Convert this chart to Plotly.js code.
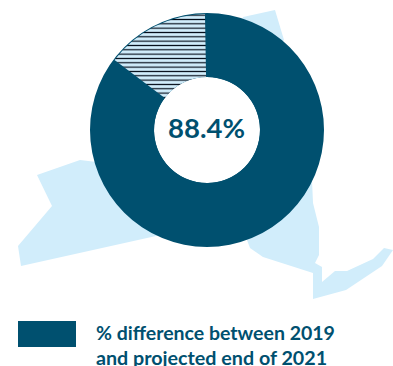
<!DOCTYPE html>
<html>
<head>
<meta charset="utf-8">
<script src="https://cdn.plot.ly/plotly-3.0.1.min.js"></script>
<style>html,body{margin:0;padding:0;background:#fff}#c{width:393px;height:366px}</style>
</head>
<body>
<div id="c"></div>
<script>
var sliceLabels = ['% difference between 2019 and projected end of 2021', 'Remainder'];
var sliceValues = [85.6, 14.4];
var centerLabel = '88.4%';
var legendLines = ['% difference between 2019', 'and projected end of 2021'];
var stateX = [37,80,105,130,165,21,18,52,37,null,
              243,275,284,265,240,243,null,
              312,313,319,319,315,322,322,335,347,373,384,393,382,346,313,313,263,250,247,235,290,312];
var stateY = [175,160,163,190,234,266,246,206,175,null,
              17,10,40,60,30,17,null,
              180,203,227,255,263,267,282,271,271,259,248,250,266,290,299,273,257,248,240,230,170,180];

var dark = '#00506F', pale = '#D1EDFB';
var font = 'Lato, "Open Sans", sans-serif';
var cx = 207, cyTop = 130, R = 117;
function dom(r){ return {x:[(cx-r)/393,(cx+r)/393], y:[(366-cyTop-r)/366,(366-cyTop+r)/366]}; }

var traces = [
  {type:'scatter', mode:'lines', x:stateX, y:stateY, fill:'toself', fillcolor:pale,
   line:{width:0,color:pale}, hoverinfo:'skip', showlegend:false},
  {type:'pie', labels:['Total'], values:[100], hole:53/R, textinfo:'none', showlegend:false,
   domain:dom(R), marker:{colors:[dark], line:{width:0}}},
  {type:'pie', labels:sliceLabels, values:sliceValues, sort:false, direction:'clockwise', rotation:-1,
   hole:53/(R-1), textinfo:'none', showlegend:false, domain:dom(R-1),
   marker:{colors:[dark,pale], line:{width:0},
     pattern:{shape:['','-'], bgcolor:[dark,pale], fgcolor:[dark,'#000814'], size:4.33, solidity:0.27}}}
];
var layout = {
  width:393, height:366, margin:{l:0,r:0,t:0,b:0},
  paper_bgcolor:'#fff', plot_bgcolor:'rgba(0,0,0,0)',
  xaxis:{range:[0,393], visible:false, fixedrange:true},
  yaxis:{range:[366,0], visible:false, fixedrange:true},
  shapes:[{type:'rect', xref:'paper', yref:'paper', x0:18/393, x1:76/393, y0:1-347/366, y1:1-321/366,
    fillcolor:dark, line:{width:0}}],
  annotations:[
    {text:'<b>'+centerLabel+'</b>', xref:'x', yref:'y', x:206, y:127, showarrow:false,
     font:{family:font,size:27.5,color:dark}},
    {text:'<b>'+legendLines[0]+'</b>', xref:'x', yref:'y', x:94, y:332, xanchor:'left', showarrow:false,
     font:{family:font,size:19.5,color:dark}},
    {text:'<b>'+legendLines[1]+'</b>', xref:'x', yref:'y', x:94, y:357, xanchor:'left', showarrow:false,
     font:{family:font,size:19.7,color:dark}}
  ]
};
Plotly.newPlot('c', traces, layout, {displayModeBar:false, staticPlot:true});
</script>
</body>
</html>
